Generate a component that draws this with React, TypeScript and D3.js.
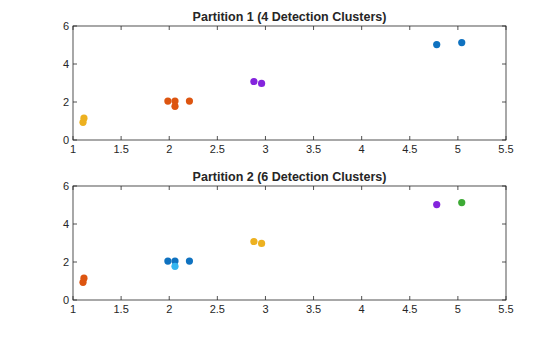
import React from "react";
import * as d3 from "d3";

const xs = [1.104, 1.114, 1.986, 2.06, 2.06, 2.21, 2.88, 2.96, 4.78, 5.04];
const ys = [0.93, 1.15, 2.05, 2.05, 1.77, 2.05, 3.08, 2.98, 5.02, 5.13];
const clusters1 = [0, 0, 1, 1, 1, 1, 2, 2, 3, 3];
const clusters2 = [0, 0, 1, 1, 2, 1, 3, 3, 4, 5];
const colors1 = ["#EDB120", "#DD5510", "#8424DD", "#0F72C0"];
const colors2 = ["#DD5510", "#0F72C0", "#33B5F0", "#EDB120", "#8424DD", "#3DAA35"];
const titles = ["Partition 1 (4 Detection Clusters)", "Partition 2 (6 Detection Clusters)"];
const xTicks = [1, 1.5, 2, 2.5, 3, 3.5, 4, 4.5, 5, 5.5];
const yTicks = [0, 2, 4, 6];

const W = 560, H = 337;
const left = 73, right = 506;

function Panel({ top, bottom, title, clusters, colors }: any) {
  const x = d3.scaleLinear().domain([1, 5.5]).range([left, right]);
  const y = d3.scaleLinear().domain([0, 6]).range([bottom, top]);
  const tl = 4;
  const font = "'Liberation Sans', Arial, sans-serif";
  return (
    <g>
      <rect x={left} y={top} width={right - left} height={bottom - top} fill="white" />
      {xTicks.map((t) => (
        <g key={"x" + t}>
          <line x1={x(t)} x2={x(t)} y1={bottom} y2={bottom - tl} stroke="#262626" strokeWidth={0.8} />
          <line x1={x(t)} x2={x(t)} y1={top} y2={top + tl} stroke="#262626" strokeWidth={0.8} />
          <text x={x(t)} y={bottom + 13} textAnchor="middle" fontSize={11} fontFamily={font} fill="#262626">{t}</text>
        </g>
      ))}
      {yTicks.map((t) => (
        <g key={"y" + t}>
          <line x1={left} x2={left + tl} y1={y(t)} y2={y(t)} stroke="#262626" strokeWidth={0.8} />
          <line x1={right} x2={right - tl} y1={y(t)} y2={y(t)} stroke="#262626" strokeWidth={0.8} />
          <text x={left - 4} y={y(t) + 4} textAnchor="end" fontSize={11} fontFamily={font} fill="#262626">{t}</text>
        </g>
      ))}
      <rect x={left} y={top} width={right - left} height={bottom - top} fill="none" stroke="#262626" strokeWidth={0.8} />
      {xs.map((v, i) => (
        <circle key={i} cx={x(v)} cy={y(ys[i])} r={3.6} fill={colors[clusters[i]]} />
      ))}
      <text x={(left + right) / 2} y={top - 5} textAnchor="middle" fontSize={12.5} fontWeight="bold" fontFamily={font} fill="#262626">{title}</text>
    </g>
  );
}

export default function App() {
  return (
    <svg width={W} height={H} style={{ position: "absolute", left: 0, top: 0, background: "white" }}>
      <rect width={W} height={H} fill="white" />
      <Panel top={26} bottom={140} title={titles[0]} clusters={clusters1} colors={colors1} />
      <Panel top={186} bottom={300} title={titles[1]} clusters={clusters2} colors={colors2} />
    </svg>
  );
}
